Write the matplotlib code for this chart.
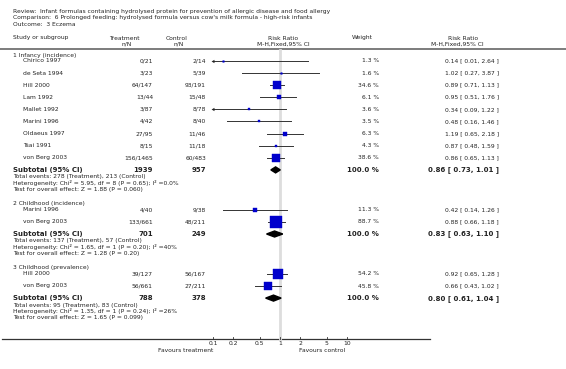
import matplotlib
matplotlib.use("Agg")
import matplotlib.pyplot as plt

# ---- data ----
group_titles = ["1 Infancy (incidence)", "2 Childhood (incidence)", "3 Childhood (prevalence)"]

g1_studies = ["Chirico 1997", "de Seta 1994", "Hill 2000", "Lam 1992", "Mallet 1992",
              "Marini 1996", "Oldaeus 1997", "Tsai 1991", "von Berg 2003"]
g1_treat = ["0/21", "3/23", "64/147", "13/44", "3/87", "4/42", "27/95", "8/15", "156/1465"]
g1_ctrl = ["2/14", "5/39", "93/191", "15/48", "8/78", "8/40", "11/46", "11/18", "60/483"]
g1_weight = [1.3, 1.6, 34.6, 6.1, 3.6, 3.5, 6.3, 4.3, 38.6]
g1_rr = [0.14, 1.02, 0.89, 0.95, 0.34, 0.48, 1.19, 0.87, 0.86]
g1_lo = [0.01, 0.27, 0.71, 0.51, 0.09, 0.16, 0.65, 0.48, 0.65]
g1_hi = [2.64, 3.87, 1.13, 1.76, 1.22, 1.46, 2.18, 1.59, 1.13]

g2_studies = ["Marini 1996", "von Berg 2003"]
g2_treat = ["4/40", "133/661"]
g2_ctrl = ["9/38", "48/211"]
g2_weight = [11.3, 88.7]
g2_rr = [0.42, 0.88]
g2_lo = [0.14, 0.66]
g2_hi = [1.26, 1.18]

g3_studies = ["Hill 2000", "von Berg 2003"]
g3_treat = ["39/127", "56/661"]
g3_ctrl = ["56/167", "27/211"]
g3_weight = [54.2, 45.8]
g3_rr = [0.92, 0.66]
g3_lo = [0.65, 0.43]
g3_hi = [1.28, 1.02]

sub_treat_n = [1939, 701, 788]
sub_ctrl_n = [957, 249, 378]
sub_rr = [0.86, 0.83, 0.80]
sub_lo = [0.73, 0.63, 0.61]
sub_hi = [1.01, 1.10, 1.04]
sub_notes = [
    ["Total events: 278 (Treatment), 213 (Control)",
     "Heterogeneity: Chi\u00b2 = 5.95, df = 8 (P = 0.65); I\u00b2 =0.0%",
     "Test for overall effect: Z = 1.88 (P = 0.060)"],
    ["Total events: 137 (Treatment), 57 (Control)",
     "Heterogeneity: Chi\u00b2 = 1.65, df = 1 (P = 0.20); I\u00b2 =40%",
     "Test for overall effect: Z = 1.28 (P = 0.20)"],
    ["Total events: 95 (Treatment), 83 (Control)",
     "Heterogeneity: Chi\u00b2 = 1.35, df = 1 (P = 0.24); I\u00b2 =26%",
     "Test for overall effect: Z = 1.65 (P = 0.099)"],
]

tick_vals = [0.1, 0.2, 0.5, 1, 2, 5, 10]
tick_labels = ["0.1", "0.2", "0.5", "1", "2", "5", "10"]

groups = [
    (g1_studies, g1_treat, g1_ctrl, g1_weight, g1_rr, g1_lo, g1_hi),
    (g2_studies, g2_treat, g2_ctrl, g2_weight, g2_rr, g2_lo, g2_hi),
    (g3_studies, g3_treat, g3_ctrl, g3_weight, g3_rr, g3_lo, g3_hi),
]

# ---- layout (pixels) ----
W, H = 566, 369
TXT = "#222222"
FS = 4.3
FSB = 5.0

fig = plt.figure(figsize=(W / 100, H / 100), dpi=100)
bg = fig.add_axes([0, 0, 1, 1])
bg.set_xlim(0, W)
bg.set_ylim(H, 0)
bg.axis("off")

# forest panel: log axis between 0.1 and 10, rows in pixel units
fx0, fx1 = 213, 347
ax = fig.add_axes([fx0 / W, 0, (fx1 - fx0) / W, 1])
ax.set_xscale("log")
ax.set_xlim(0.1, 10)
ax.set_ylim(H, 0)
ax.axis("off")


def txt(x, y, s, ha="left", bold=False, size=None):
    bg.text(x, y, s, ha=ha, va="center", color=TXT,
            fontsize=size or (FSB if bold else FS),
            fontweight="bold" if bold else "normal", family="DejaVu Sans")


# header
txt(13, 12, "Review:  Infant formulas containing hydrolysed protein for prevention of allergic disease and food allergy")
txt(13, 18, "Comparison:  6 Prolonged feeding: hydrolysed formula versus cow's milk formula - high-risk infants")
txt(13, 24, "Outcome:  3 Eczema")
txt(13, 38, "Study or subgroup")
txt(124, 38, "Treatment", ha="center")
txt(127, 44, "n/N", ha="center")
txt(177, 38, "Control", ha="center")
txt(179, 44, "n/N", ha="center")
txt(283, 38, "Risk Ratio", ha="center")
txt(283, 44, "M-H,Fixed,95% CI", ha="center")
txt(362, 38, "Weight", ha="center")
txt(463, 38, "Risk Ratio", ha="center")
txt(457, 44, "M-H,Fixed,95% CI", ha="center")
bg.plot([0, W], [49, 49], color="#666666", lw=1.2)

# reference line at RR = 1
ax.plot([1, 1], [50, 339], color="#dddddd", lw=2, zorder=0)

row_step = 12.1
y = 55
for gi, (names, tr, ct, wt, rr, lo, hi) in enumerate(groups):
    txt(13, y, group_titles[gi])
    y += 6
    for k in range(len(names)):
        txt(23, y, names[k])
        txt(153, y, tr[k], ha="right")
        txt(206, y, ct[k], ha="right")
        txt(379, y, f"{wt[k]:.1f} %", ha="right")
        txt(499, y, f"{rr[k]:.2f} [ {lo[k]:.2f}, {hi[k]:.2f} ]", ha="right")
        left = max(lo[k], 0.1)
        ax.plot([left, min(hi[k], 10)], [y, y], color="#333333", lw=0.7)
        if lo[k] < 0.1:
            # clipped interval: small arrow head at the left edge
            ax.plot([0.1], [y], marker=(3, 0, 90), ms=2.8, color="#222222",
                    mew=0, clip_on=False)
        side = max(1.27 * wt[k] ** 0.5, 1.6)
        ax.plot([rr[k]], [y], marker="s", ms=side * 0.72, color="#0000cc",
                mec="#0000cc", mew=0.3, zorder=3)
        y += row_step
    # subtotal
    txt(13, y, "Subtotal (95% CI)", bold=True)
    txt(153, y, f"{sub_treat_n[gi]}", ha="right", bold=True)
    txt(206, y, f"{sub_ctrl_n[gi]}", ha="right", bold=True)
    txt(379, y, "100.0 %", ha="right", bold=True)
    txt(499, y, f"{sub_rr[gi]:.2f} [ {sub_lo[gi]:.2f}, {sub_hi[gi]:.2f} ]",
        ha="right", bold=True)
    ax.fill([sub_lo[gi], sub_rr[gi], sub_hi[gi], sub_rr[gi]],
            [y, y - 3, y, y + 3], color="black", zorder=3)
    y += 7
    for line in sub_notes[gi]:
        txt(13, y, line)
        y += 6.3
    y += 8

# x axis
bg.plot([2, 430], [339, 339], color="#333333", lw=0.9)
for v, lab in zip(tick_vals, tick_labels):
    ax.plot([v, v], [337, 339], color="#333333", lw=0.6, clip_on=False)
    ax.text(v, 343.5, lab, ha="center", va="center", fontsize=FS, color=TXT,
            clip_on=False)
txt(213, 350.5, "Favours treatment", ha="right")
txt(299, 350.5, "Favours control")

fig.savefig("out.png", dpi=100)
